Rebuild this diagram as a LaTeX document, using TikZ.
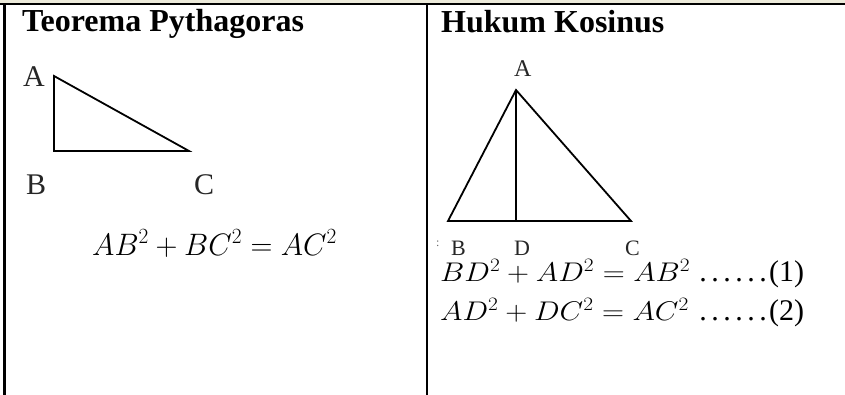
\RequirePackage{fix-cm}
\documentclass[tikz,border=0pt]{standalone}
\usepackage{graphicx}
\usepackage{fontspec}
\setmainfont{Liberation Serif}
\definecolor{strip}{RGB}{236,234,218}
\begin{document}
\begin{tikzpicture}[x=1pt,y=-1pt,
  rule/.style={line width=2.8pt,black},
  tri/.style={line width=1.8pt,black,line join=miter},
  head/.style={anchor=base west,inner sep=0pt,font=\fontsize{32}{36}\selectfont\bfseries},
  bigv/.style={anchor=base west,inner sep=0pt,font=\fontsize{30}{34}\selectfont,text=black!85},
  smallv/.style={anchor=base west,inner sep=0pt,font=\fontsize{22}{25}\selectfont,text=black!85},
  eq/.style={anchor=base west,inner sep=0pt,font=\fontsize{31}{36}\selectfont},
  eqs/.style={anchor=base west,inner sep=0pt,font=\fontsize{27}{31}\selectfont},
  tag/.style={anchor=base west,inner sep=0pt,font=\fontsize{30}{34}\selectfont}]
\useasboundingbox (0,0) rectangle (845,395);
\fill[strip] (0,0) rectangle (845,2.6);
% table rules
\coordinate (tl) at (0,4);
\coordinate (tr) at (845,4);
\coordinate (lt) at (4.5,4);
\coordinate (lb) at (4.5,395);
\coordinate (mt) at (427,4);
\coordinate (mb) at (427,395);
\draw[rule] (tl) -- (tr);
\draw[rule] (lt) -- (lb);
\draw[rule] (mt) -- (mb);
% headers
\node[head] (h1) at (22,32) {Teorema Pythagoras};
\node[head] (h2) at (441,33) {Hukum Kosinus};
% left triangle
\coordinate (A1) at (54,76);
\coordinate (B1) at (54,151);
\coordinate (C1) at (189,151);
\draw[tri] (A1) -- (B1) -- (C1) -- cycle;
\node[bigv] (la) at (23,87) {A};
\node[bigv] (lb1) at (26,195) {B};
\node[bigv] (lc) at (194,195) {C};
\node[eq] (e0) at (92,255) {\scalebox{0.98}[1]{$AB^2+BC^2=AC^2$}};
% right triangle
\coordinate (A2) at (516,90);
\coordinate (B2) at (448,221);
\coordinate (D2) at (516,221);
\coordinate (C2) at (631,221);
\draw[tri] (A2) -- (B2) -- (C2) -- cycle;
\draw[tri] (A2) -- (D2);
\node[anchor=base west,inner sep=0pt,font=\fontsize{24}{27}\selectfont,text=black!85] (ra) at (514,77) {A};
\node[anchor=base west,inner sep=0pt,font=\fontsize{12}{14}\selectfont,text=black!60] (rcol) at (436,247) {:};
\node[smallv] (rb) at (451,255) {B};
\node[smallv] (rd) at (514,255) {D};
\node[smallv] (rc) at (625,255) {C};
\node[eqs] (e1) at (440,281) {\scalebox{1.13}[1]{$BD^2+AD^2=AB^2$}};
\node[eqs] (e2) at (440,320) {\scalebox{1.13}[1]{$AD^2+DC^2=AC^2$}};
\node[tag] (t1) at (697,281) {\hbox to 72pt{\xleaders\hbox to 12pt{\hss.\hss}\hfill}(1)};
\node[tag] (t2) at (697,320) {\hbox to 72pt{\xleaders\hbox to 12pt{\hss.\hss}\hfill}(2)};
\end{tikzpicture}
\end{document}
